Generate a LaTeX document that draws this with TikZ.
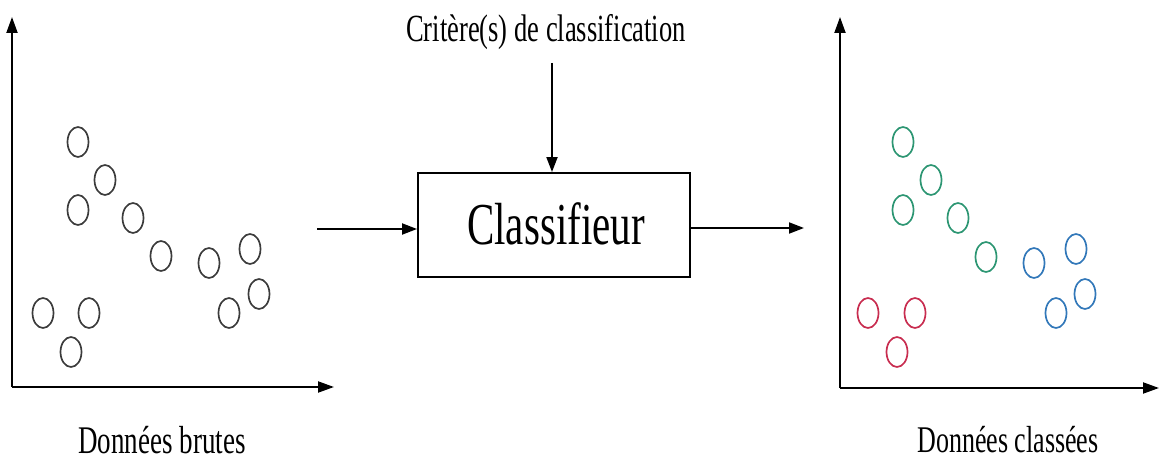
\documentclass[tikz,border=0pt]{standalone}
\usepackage{fontspec}
\setmainfont{Liberation Serif}
\usetikzlibrary{arrows.meta,shapes.geometric}
\definecolor{ptgray}{RGB}{60,60,60}
\definecolor{ptred}{RGB}{200,45,80}
\definecolor{ptgreen}{RGB}{45,150,115}
\definecolor{ptblue}{RGB}{50,120,185}
\begin{document}
\begin{tikzpicture}[x=1pt,y=-1pt,
  axis/.style={line width=2pt,-{Triangle[length=16pt,width=11pt]}},
  conn/.style={line width=1.9pt,-{Triangle[length=15pt,width=11pt]}},
  pt/.style={ellipse,draw=#1,line width=1.7pt,minimum width=21pt,minimum height=30pt,inner sep=0pt},
  lbl/.style={font=\fontsize{#1}{#1}\selectfont,yscale=1.45,transform shape,inner sep=0pt},
  ]
\useasboundingbox (0,0) rectangle (1159,462);
% left plot
\coordinate (lo) at (12,387);
\coordinate (ly) at (12,17);
\coordinate (lx) at (334,387);
\draw[axis] (lo) -- (ly);
\draw[axis] (lo) -- (lx);
\foreach \n/\x/\y in {a/78/142,b/105/180,c/78/210,d/133/218,e/161/256,f/209/263,g/250/249,h/259/294,i/229/313,j/43/313,k/89/313,l/71/352}
  \node[pt=ptgray] (L\n) at (\x,\y) {};
\node[lbl=27] (raw) at (162,440) {Données brutes};
% classifier
\node[draw,line width=1.9pt,minimum width=272pt,minimum height=104pt,inner sep=0pt] (cls) at (554,225) {};
\node[lbl=41] (clstext) at (556,224) {Classifieur};
\node[lbl=26.5] (crit) at (546,32) {Critère(s) de classification};
\coordinate (critend) at (552,63);
\coordinate (inS) at (317,229);
\coordinate (outE) at (804,228);
\draw[conn] (critend) -- (cls.north -| critend);
\draw[conn] (inS) -- (inS -| cls.west);
\draw[conn] (outE -| cls.east) -- (outE);
% right plot
\coordinate (ro) at (840,388);
\coordinate (ry) at (840,17);
\coordinate (rx) at (1159,388);
\draw[axis] (ro) -- (ry);
\draw[axis] (ro) -- (rx);
\foreach \n/\x/\y in {a/903/142,b/931/180,c/903/210,d/958/218,e/986/257}
  \node[pt=ptgreen] (G\n) at (\x,\y) {};
\foreach \n/\x/\y in {a/1034/263,b/1076/249,c/1085/294,d/1056/313}
  \node[pt=ptblue] (B\n) at (\x,\y) {};
\foreach \n/\x/\y in {a/868/313,b/915/313,c/897/352}
  \node[pt=ptred] (R\n) at (\x,\y) {};
\node[lbl=26] (classed) at (1008,440) {Données classées};
\end{tikzpicture}
\end{document}
